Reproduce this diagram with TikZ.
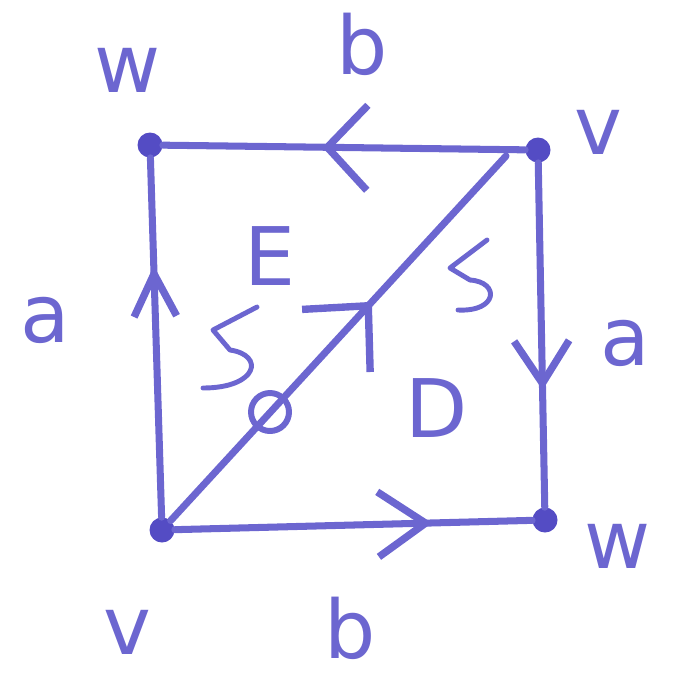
\documentclass[tikz,border=0pt]{standalone}
\usepackage{fontspec}
\setmainfont{DejaVu Sans}
\usetikzlibrary{arrows.meta,decorations.markings}
\definecolor{pen}{RGB}{108,102,208}
\definecolor{pendark}{RGB}{84,76,196}

\begin{document}
\begin{tikzpicture}[x=0.02cm, y=-0.02cm,
    edge/.style={draw=pen, line width=4pt, line cap=round, line join=round},
    midarrow/.style n args={3}{postaction={decorate}, decoration={markings,
        mark=at position #1 with {\arrow{Straight Barb[length=#2, width=#3, line width=4.2pt]}}}},
    vdot/.style={circle, fill=pendark, inner sep=0pt, minimum size=0.5cm},
    lbl/.style={text=pen, font=\fontsize{46}{50}\selectfont, inner sep=0pt},
    curl/.style={draw=pen, line width=2.8pt, line cap=round, line join=round}]
  \useasboundingbox (0,0) rectangle (678,677);

  % corners of the square
  \node[vdot] (tl) at (150,145) {};
  \node[vdot] (tr) at (538,150) {};
  \node[vdot] (br) at (545,520) {};
  \node[vdot] (bl) at (162,530) {};
  \coordinate (diagend) at (506,156);

  % sides and diagonal
  \draw[edge, midarrow={0.56}{0.8cm}{1.7cm}] (tr) -- (tl);
  \draw[edge, midarrow={0.7}{0.85cm}{0.85cm}] (bl) -- (tl);
  \draw[edge, midarrow={0.66}{0.85cm}{1.1cm}] (tr) -- (br);
  \draw[edge, midarrow={0.72}{0.95cm}{1.3cm}] (bl) -- (br);
  \draw[edge, midarrow={0.6}{0.95cm}{1.85cm}] (bl) -- (diagend);
  \draw[curl, line width=3.4pt] (270,412) circle [radius=0.38cm];

  % orientation marks
  \draw[curl] (257,307) -- (213,330) -- (230,350) .. controls (265,355) and (258,388) .. (203,388);
  \draw[curl] (487,240) -- (450,268) -- (470,280) .. controls (500,282) and (498,312) .. (458,310);

  % labels
  \node[lbl] (wtop) at (128,70) {w};
  \node[lbl] (btop) at (362,44) {b};
  \node[lbl] (vtop) at (598,132) {v};
  \node[lbl] (aleft) at (45,320) {a};
  \node[lbl] (faceE) at (270,256) {E};
  \node[lbl] (aright) at (625,343) {a};
  \node[lbl] (faceD) at (437,408) {D};
  \node[lbl] (vbot) at (127,632) {v};
  \node[lbl] (bbot) at (350,628) {b};
  \node[lbl] (wbot) at (618,546) {w};
\end{tikzpicture}
\end{document}
